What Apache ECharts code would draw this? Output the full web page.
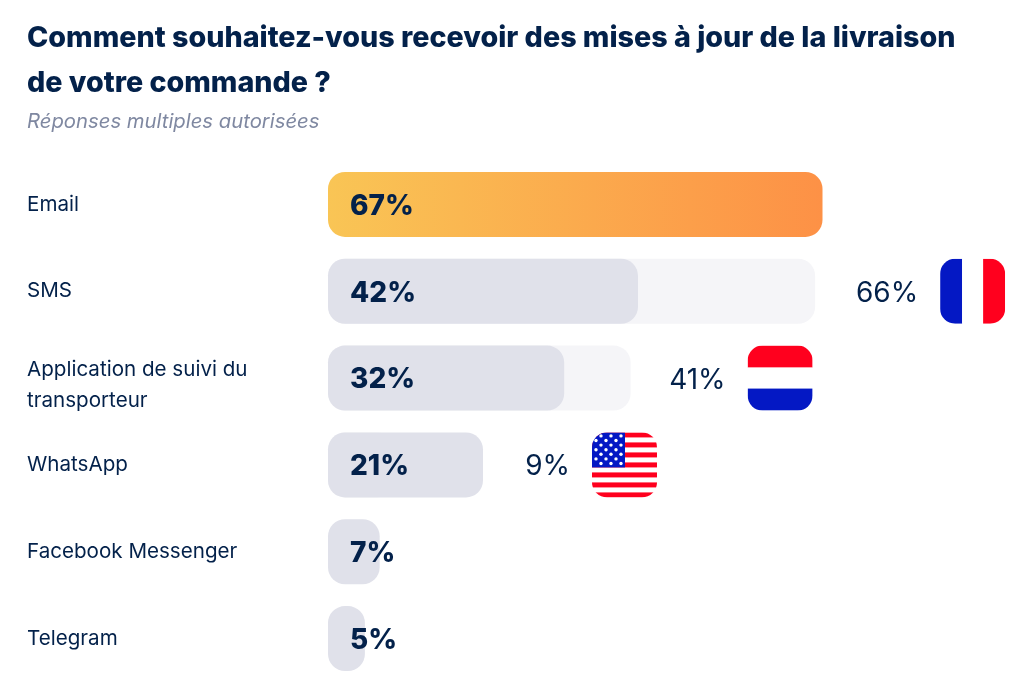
<!DOCTYPE html>
<html>
<head>
<meta charset="utf-8">
<script src="https://cdn.jsdelivr.net/npm/echarts@6/dist/echarts.min.js"></script>
<style>
html,body{margin:0;padding:0;background:#fff}
#chart{width:1024px;height:684px}
</style>
</head>
<body>
<div id="chart"></div>
<script>
var categories = ['Email', 'SMS', 'Application de suivi du\ntransporteur', 'WhatsApp', 'Facebook Messenger', 'Telegram'];
var globalValues = [67, 42, 32, 21, 7, 5];
var countryValues = [null, 66, 41, 9, null, null];
var countryFlags = [null, 'fr', 'nl', 'us', null, null];

var NAVY = '#03214a';
var FONT = 'Inter';
// distance from the end of the bar to the flag
var FLAG_OFFSET = { fr: 125, nl: 117, us: 109 };

function flagUri(code) {
    var body = '';
    if (code === 'fr') {
        body = '<rect width="22" height="65" fill="#0418c4"/><rect x="22" width="21" height="65" fill="#fff"/><rect x="43" width="22" height="65" fill="#ff001e"/>';
    } else if (code === 'nl') {
        body = '<rect width="65" height="22" fill="#ff001e"/><rect y="22" width="65" height="21" fill="#fff"/><rect y="43" width="65" height="22" fill="#0418c4"/>';
    } else {
        body = '<rect width="65" height="65" fill="#fff"/>';
        for (var s = 0; s < 7; s++) {
            body += '<rect y="' + (s * 10) + '" width="65" height="5" fill="#ff001e"/>';
        }
        body += '<rect width="33" height="35" fill="#0418c4"/>';
        for (var r = 0; r < 7; r++) {
            for (var c = 0; c < 3; c++) {
                body += '<circle cx="' + ((r % 2 ? 4 : 9) + c * 10) + '" cy="' + (3.5 + r * 4.6) + '" r="1.7" fill="#fff"/>';
            }
        }
    }
    var svg = '<svg xmlns="http://www.w3.org/2000/svg" width="65" height="65">' +
        '<defs><clipPath id="c"><rect width="65" height="65" rx="15"/></clipPath></defs>' +
        '<g clip-path="url(#c)">' + body + '</g></svg>';
    return 'data:image/svg+xml;charset=utf-8,' + encodeURIComponent(svg);
}

var mainData = globalValues.map(function (v, i) {
    if (i === 0) {
        return {
            value: v,
            itemStyle: {
                color: new echarts.graphic.LinearGradient(0, 0, 1, 0, [
                    { offset: 0, color: '#f9c555' },
                    { offset: 1, color: '#fd9146' }
                ])
            }
        };
    }
    return v;
});

var countryMarks = [];
countryValues.forEach(function (v, i) {
    if (v !== null) {
        countryMarks.push([Math.max(v, globalValues[i]), i, v, countryFlags[i]]);
    }
});

var labelMarks = categories.map(function (name, i) {
    return [0, i];
});

var chart = echarts.init(document.getElementById('chart'));
chart.setOption({
    animation: false,
    backgroundColor: '#fff',
    title: [
        {
            text: 'Comment souhaitez-vous recevoir des mises à jour de la livraison\nde votre commande ?',
            left: 22, top: 11,
            textStyle: { color: NAVY, fontFamily: FONT, fontWeight: 800, fontSize: 28.7, lineHeight: 45 }
        },
        {
            text: 'Réponses multiples autorisées',
            left: 22, top: 107,
            textStyle: { color: '#7f88a1', fontFamily: FONT, fontStyle: 'italic', fontWeight: 400, fontSize: 20.3 }
        }
    ],
    grid: { left: 328, right: 0, top: 161, height: 521 },
    xAxis: { type: 'value', min: 0, max: 94.3, show: false },
    yAxis: {
        type: 'category',
        inverse: true,
        data: categories,
        axisLine: { show: false },
        axisTick: { show: false },
        axisLabel: { show: false }
    },
    series: [
        {
            type: 'bar',
            data: countryValues,
            barWidth: 65,
            barGap: '-100%',
            itemStyle: { color: '#f5f5f8', borderRadius: 17 },
            silent: true
        },
        {
            type: 'bar',
            data: mainData,
            barWidth: 65,
            itemStyle: { color: '#e0e1ea', borderRadius: 17 },
            label: {
                show: true,
                position: [22, '53%'],
                verticalAlign: 'middle',
                formatter: '{c}%',
                color: NAVY,
                fontFamily: FONT,
                fontWeight: 800,
                fontSize: 28
            },
            z: 3
        },
        {
            // category names, the two-line one sits lower than its bar's middle
            type: 'custom',
            data: labelMarks,
            encode: { x: 0, y: 1 },
            silent: true,
            z: 4,
            renderItem: function (params, api) {
                var p = api.coord([api.value(0), api.value(1)]);
                var lines = categories[params.dataIndex].split('\n');
                return {
                    type: 'group',
                    children: lines.map(function (line, n) {
                        return {
                            type: 'text',
                            style: {
                                x: p[0] - 301,
                                y: p[1] + (lines.length > 1 ? n * 31 - 8.5 : 0),
                                text: line,
                                fill: NAVY,
                                font: '400 20.6px ' + FONT,
                                verticalAlign: 'middle'
                            }
                        };
                    })
                };
            }
        },
        {
            type: 'custom',
            data: countryMarks,
            encode: { x: 0, y: 1 },
            silent: true,
            z: 4,
            renderItem: function (params, api) {
                var mark = countryMarks[params.dataIndex];
                var p = api.coord([api.value(0), api.value(1)]);
                var flagX = p[0] + FLAG_OFFSET[mark[3]];
                return {
                    type: 'group',
                    children: [
                        {
                            type: 'text',
                            style: {
                                x: flagX - 22, y: p[1] + 2,
                                text: mark[2] + '%',
                                fill: NAVY,
                                font: '400 28px ' + FONT,
                                align: 'right',
                                verticalAlign: 'middle'
                            }
                        },
                        {
                            type: 'image',
                            style: {
                                image: flagUri(mark[3]),
                                x: flagX, y: p[1] - 32.5,
                                width: 65, height: 65
                            }
                        }
                    ]
                };
            }
        }
    ]
});
</script>
</body>
</html>
